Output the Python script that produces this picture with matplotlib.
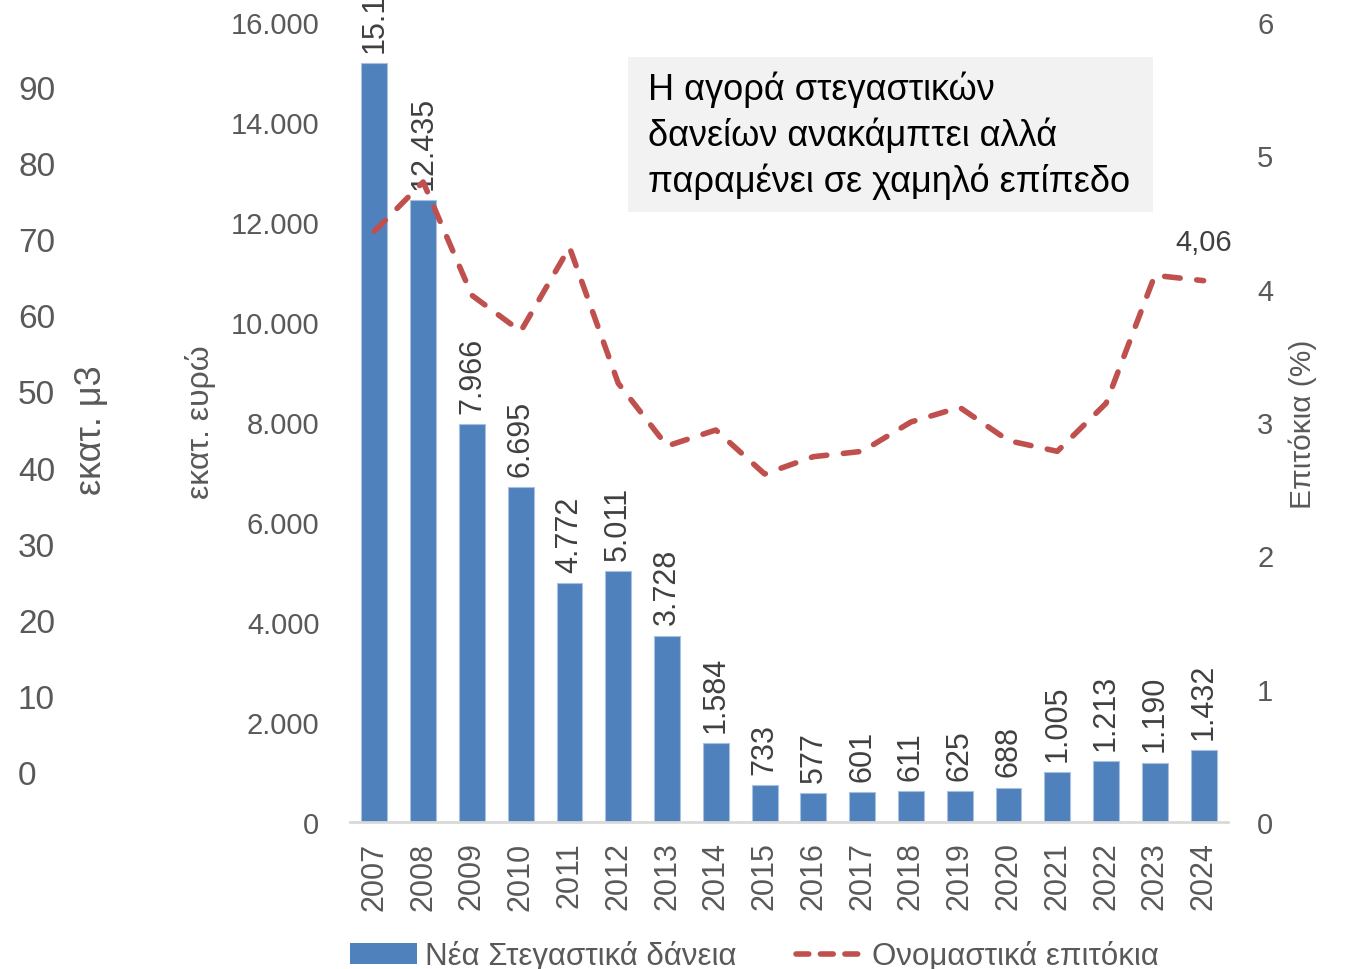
import matplotlib
matplotlib.use("Agg")
import matplotlib.pyplot as plt
from matplotlib.patches import Rectangle, Patch
from matplotlib.lines import Line2D

plt.rcParams['font.family'] = ['Liberation Sans', 'DejaVu Sans']

# data
years = [str(y) for y in range(2007, 2025)]
loans = [15180, 12435, 7966, 6695, 4772, 5011, 3728, 1584, 733, 577,
         601, 611, 625, 688, 1005, 1213, 1190, 1432]
loan_labels = ["15.180", "12.435", "7.966", "6.695", "4.772", "5.011", "3.728",
               "1.584", "733", "577", "601", "611", "625", "688", "1.005",
               "1.213", "1.190", "1.432"]
rates = [4.43, 4.80, 3.95, 3.68, 4.31, 3.29, 2.82, 2.94, 2.61, 2.74,
         2.78, 3.00, 3.11, 2.86, 2.78, 3.14, 4.10, 4.06]
left_ticks = [0, 2000, 4000, 6000, 8000, 10000, 12000, 14000, 16000]
left_tick_labels = ["0", "2.000", "4.000", "6.000", "8.000", "10.000",
                    "12.000", "14.000", "16.000"]
right_ticks = [0, 1, 2, 3, 4, 5, 6]
stray_ticks = [0, 10, 20, 30, 40, 50, 60, 70, 80, 90]

bar_color = "#4f81bd"
line_color = "#c0504d"
grey = "#595959"

W, H = 1345, 970
fig = plt.figure(figsize=(W / 100, H / 100), dpi=100)

ax = fig.add_axes([350 / W, 1 - 823 / H, 878 / W, 800 / H])
x = list(range(len(years)))
ax.bar(x, loans, width=0.53, color=bar_color, edgecolor="#a9c0e0", linewidth=0.8)
ax.set_xlim(-0.5, len(years) - 0.5)
ax.set_ylim(0, 16000)
ax.set_yticks(left_ticks)
ax.set_yticklabels(left_tick_labels)
ax.set_xticks(x)
ax.set_xticklabels(years, rotation=90)
ax.tick_params(axis='y', length=0, pad=22, labelsize=21, labelcolor=grey)
ax.tick_params(axis='x', length=0, pad=14, labelsize=22, labelcolor=grey)
for s in ['top', 'left', 'right']:
    ax.spines[s].set_visible(False)
ax.spines['bottom'].set_color("#d9d9d9")
ax.spines['bottom'].set_linewidth(2)

for xi, v, lab in zip(x, loans, loan_labels):
    ax.annotate(lab, (xi, v), xytext=(0, 8), textcoords='offset points',
                rotation=90, ha='center', va='bottom', fontsize=22,
                color="#404040", annotation_clip=False)

ax2 = ax.twinx()
ax2.plot(x, rates, color=line_color, linewidth=4, dashes=(2.8, 3.0),
         dash_capstyle='round', solid_joinstyle='round')
ax2.set_ylim(0, 6)
ax2.set_yticks(right_ticks)
ax2.tick_params(axis='y', length=0, pad=21, labelsize=21, labelcolor=grey)
for s in ['top', 'left', 'right', 'bottom']:
    ax2.spines[s].set_visible(False)
ax2.annotate("4,06", (x[-1], rates[-1]), xytext=(0, 18), textcoords='offset points',
             ha='center', va='bottom', fontsize=21, color="#404040")

# stray axis on the far left
ax3 = fig.add_axes([0, 1 - 773 / H, 18 / W, 685 / H])
ax3.set_facecolor('none')
ax3.set_ylim(0, 90)
ax3.set_yticks(stray_ticks)
ax3.yaxis.tick_right()
ax3.tick_params(axis='y', length=0, pad=0, labelsize=24, labelcolor=grey)
ax3.set_xticks([])
for s in ax3.spines.values():
    s.set_visible(False)

fig.text(92 / W, 1 - 430 / H, "εκατ. μ3", rotation=90, ha='center', va='center',
         fontsize=26, color=grey)
fig.text(200 / W, 1 - 422 / H, "εκατ. ευρώ", rotation=90, ha='center', va='center',
         fontsize=23, color=grey)
fig.text(1303 / W, 1 - 424 / H, "Επιτόκια (%)", rotation=90, ha='center', va='center',
         fontsize=21.5, color=grey)

# note box
fig.patches.append(Rectangle((628 / W, 1 - 213 / H), 525 / W, 155 / H,
                             transform=fig.transFigure, facecolor="#f2f2f2",
                             edgecolor='none', zorder=0))
fig.text(648 / W, 1 - 136 / H,
         "Η αγορά στεγαστικών\nδανείων ανακάμπτει αλλά\nπαραμένει σε χαμηλό επίπεδο",
         ha='left', va='center', fontsize=26, color="black", linespacing=1.36)

handles = [Patch(facecolor=bar_color, edgecolor='none'),
           Line2D([0], [0], color=line_color, linewidth=4, dashes=(2.3, 2.1),
                  dash_capstyle='round')]
fig.legend(handles, ["Νέα Στεγαστικά δάνεια", "Ονομαστικά επιτόκια"],
           loc='center left', bbox_to_anchor=(350 / W, 1 - 957 / H), ncol=2,
           frameon=False, handlelength=2.15, handleheight=0.65, columnspacing=1.9,
           handletextpad=0.26, borderpad=0, borderaxespad=0,
           prop={'size': 22.5}, labelcolor=grey)

fig.savefig("out.png", dpi=100)
